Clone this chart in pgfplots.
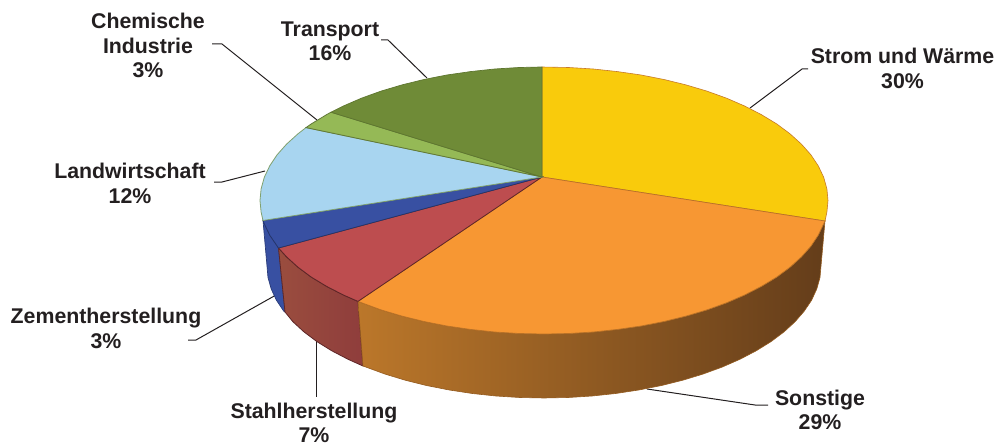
\documentclass[border=0pt]{standalone}
\usepackage{pgfplots}
\pgfplotsset{compat=1.18}
\usepackage{fontspec}
\setmainfont{Liberation Sans}
\definecolor{cY}{HTML}{F9CB0C}\definecolor{cO}{HTML}{F79733}\definecolor{cR}{HTML}{BD4D4F}
\definecolor{cB}{HTML}{3850A2}\definecolor{cLB}{HTML}{A8D5F0}\definecolor{cLG}{HTML}{95B956}
\definecolor{cDG}{HTML}{6F8B37}\definecolor{txt}{HTML}{231F20}
\definecolor{rL}{HTML}{9A4D3E}\definecolor{rR}{HTML}{8F3D3C}\definecolor{oL}{HTML}{BB772A}\definecolor{oR}{HTML}{643D1A}
\tikzset{lab/.style={font=\fontsize{21.3}{24.5}\selectfont\bfseries, text=txt, align=center, inner sep=0pt}}
\begin{document}
\begin{tikzpicture}
\path[use as bounding box] (0,0) rectangle (994pt,444pt);
\begin{axis}[
  scale only axis, width=994pt, height=444pt, at={(0,0)}, anchor=south west,
  xmin=0, xmax=994, ymin=0, ymax=444, y dir=reverse, hide axis, no markers, clip=false]
% leader lines
\addplot[txt,line width=1pt] coordinates {(750,108) (802,69) (808,69)};
\addplot[txt,line width=1pt] coordinates {(427,78) (388,40) (381,40)};
\addplot[txt,line width=1pt] coordinates {(317,120) (222,44) (212,44)};
\addplot[txt,line width=1pt] coordinates {(265,171) (222,182) (214,182)};
\addplot[txt,line width=1pt] coordinates {(276,295) (196,340) (188,340)};
\addplot[txt,line width=1pt] coordinates {(316,341) (316,397)};
\addplot[txt,line width=1pt] coordinates {(647,389) (755,405) (768,405)};
% side walls
\addplot[draw=cB!75!black,line width=0.7pt,fill=cB] coordinates {(278.5,248)(269.7,235.1)(264.3,223.7)(263,220.5)(267,266)(268,277.5)(271.2,288.9)(276.4,300.2)(283.7,311.1)(285,312)} --cycle;
\addplot[draw=cR!50!black,line width=0.8pt,left color=rL,right color=rR] coordinates {(358,301.4)(343.2,294.9)(326.5,286.3)(311.3,277.1)(298.1,267.3)(286.6,256.9)(278.5,248)(285,312)(293,321.8)(304.1,332)(317.1,341.7)(331.8,350.8)(348.1,359.3)(363,366)} --cycle;
\addplot[draw=cO!60!black,line width=0.6pt,left color=oL,right color=oR] coordinates {(825,221)(823.7,223.7)(818.3,235.1)(810.9,246.2)(801.4,256.9)(789.9,267.3)(776.7,277.1)(761.5,286.3)(744.8,294.9)(726.6,302.8)(706.9,309.9)(686,316.1)(664,321.5)(641.1,326)(617.5,329.4)(593.3,332)(568.8,333.5)(544,334)(519.2,333.5)(494.7,332)(470.5,329.4)(446.9,326)(424,321.5)(402,316.1)(381.1,309.9)(358,301.4)(363,366)(385.1,374.1)(405.5,380.3)(426.9,385.6)(449.3,390)(472.3,393.5)(495.9,396)(519.8,397.5)(544,398)(568.2,397.5)(592.1,396)(615.7,393.5)(638.7,390)(661.1,385.6)(682.5,380.3)(702.9,374.1)(722.1,367.1)(739.9,359.3)(756.2,350.8)(770.9,341.7)(783.9,332)(795,321.8)(804.3,311.1)(811.6,300.2)(816.8,288.9)(820,277.5)(821,266)} --cycle;
% top wedges
\addplot[draw=cO!80!black,line width=0.6pt,fill=cY] coordinates {(542,177)(542,67)(568.8,67.5)(593.3,69)(617.5,71.6)(641.1,75)(664,79.5)(686,84.9)(706.9,91.1)(726.6,98.2)(744.8,106.1)(761.5,114.7)(776.7,123.9)(789.9,133.7)(801.4,144.1)(810.9,154.8)(818.3,165.9)(823.7,177.3)(826.9,188.9)(828,200.5)(826.9,212.1)(825,221)} --cycle;
\addplot[draw=cO!75!black,line width=0.7pt,fill=cO] coordinates {(542,177)(825,221)(823.7,223.7)(818.3,235.1)(810.9,246.2)(801.4,256.9)(789.9,267.3)(776.7,277.1)(761.5,286.3)(744.8,294.9)(726.6,302.8)(706.9,309.9)(686,316.1)(664,321.5)(641.1,326)(617.5,329.4)(593.3,332)(568.8,333.5)(544,334)(519.2,333.5)(494.7,332)(470.5,329.4)(446.9,326)(424,321.5)(402,316.1)(381.1,309.9)(358,301.4)} --cycle;
\addplot[draw=cR!50!black,line width=0.8pt,fill=cR] coordinates {(542,177)(358,301.4)(343.2,294.9)(326.5,286.3)(311.3,277.1)(298.1,267.3)(286.6,256.9)(278.5,248)} --cycle;
\addplot[draw=cB!65!black,line width=0.7pt,fill=cB] coordinates {(542,177)(278.5,248)(269.7,235.1)(264.3,223.7)(263,220.5)} --cycle;
\addplot[draw=cDG!70!cLB,line width=0.8pt,fill=cLB] coordinates {(542,177)(263,220.5)(261.1,212.1)(260,200.5)(261.1,188.9)(264.3,177.3)(269.7,165.9)(277.1,154.8)(286.6,144.1)(298.1,133.7)(306,127.6)} --cycle;
\addplot[draw=cLG!65!black,line width=0.8pt,fill=cLG] coordinates {(542,177)(306,127.6)(311.3,123.9)(326.5,114.7)(331,112.2)} --cycle;
\addplot[draw=cDG!85!black,line width=0.7pt,fill=cDG] coordinates {(542,177)(331,112.2)(343.2,106.1)(361.4,98.2)(381.1,91.1)(402,84.9)(424,79.5)(446.9,75)(470.5,71.6)(494.7,69)(519.2,67.5)(542,67)} --cycle;
% labels
\node[lab] at (axis cs:902.5,68.5) {Strom und Wärme\\30\%};
\node[lab] at (axis cs:330,41.5) {Transport\\16\%};
\node[lab] at (axis cs:148,45.5) {Chemische\\Industrie\\3\%};
\node[lab] at (axis cs:130,183.5) {Landwirtschaft\\12\%};
\node[lab] at (axis cs:106,328.5) {Zementherstellung\\3\%};
\node[lab] at (axis cs:314,423) {Stahlherstellung\\7\%};
\node[lab] at (axis cs:820,410) {Sonstige\\29\%};
\end{axis}
\end{tikzpicture}
\end{document}
